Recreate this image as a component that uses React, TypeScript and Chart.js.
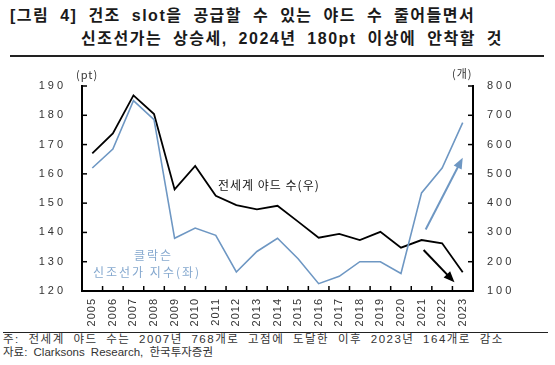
import React, { useEffect, useRef } from "react";
import { Chart, registerables } from "chart.js";

Chart.register(...registerables);

const years = ["2005","2006","2007","2008","2009","2010","2011","2012","2013","2014","2015","2016","2017","2018","2019","2020","2021","2022","2023"];
const priceIndex = [162, 168.5, 185, 178.5, 138, 141.5, 139, 126.5, 133.5, 138, 131, 122.5, 125, 130, 130, 126, 153.5, 162, 177.5];
const yardCount = [570, 638, 768, 704, 447, 527, 425, 393, 379, 391, 337, 282, 295, 274, 302, 248, 274, 263, 164];
const leftTicks = [120, 130, 140, 150, 160, 170, 180, 190];
const rightTicks = [100, 200, 300, 400, 500, 600, 700, 800];
// arrows in data units: [xIndexStart, valueStart, xIndexEnd, valueEnd]
const blueArrow = [16.2, 141, 18.0, 165.5];
const blackArrow = [16.1, 240, 17.6, 130];

const BLUE = "#6e97c3";
const LABEL_BLUE = "#86a9cf";
const TICK_FONT = '11px "Liberation Sans", Arial, sans-serif';

function drawArrow(ctx: CanvasRenderingContext2D, x0: number, y0: number, x1: number, y1: number, color: string) {
  const ang = Math.atan2(y1 - y0, x1 - x0);
  const head = 11;
  const hw = 4.5;
  ctx.save();
  ctx.strokeStyle = color;
  ctx.fillStyle = color;
  ctx.lineWidth = 2;
  ctx.beginPath();
  ctx.moveTo(x0, y0);
  ctx.lineTo(x1 - Math.cos(ang) * head * 0.8, y1 - Math.sin(ang) * head * 0.8);
  ctx.stroke();
  ctx.beginPath();
  ctx.moveTo(x1, y1);
  const bx = x1 - Math.cos(ang) * head;
  const by = y1 - Math.sin(ang) * head;
  ctx.lineTo(bx + Math.sin(ang) * hw, by - Math.cos(ang) * hw);
  ctx.lineTo(bx - Math.sin(ang) * hw, by + Math.cos(ang) * hw);
  ctx.closePath();
  ctx.fill();
  ctx.restore();
}

const axisPlugin = {
  id: "axisDecor",
  afterDraw(chart: any) {
    const ctx: CanvasRenderingContext2D = chart.ctx;
    const xs = chart.scales.x;
    const yl = chart.scales.y;
    const yr = chart.scales.y1;
    const { left, right, bottom } = chart.chartArea;
    ctx.save();
    ctx.strokeStyle = "#000";
    ctx.lineWidth = 1.5;
    for (const v of leftTicks) {
      const y = yl.getPixelForValue(v);
      ctx.beginPath(); ctx.moveTo(left, y); ctx.lineTo(left + 5, y); ctx.stroke();
    }
    for (const v of rightTicks) {
      const y = yr.getPixelForValue(v);
      ctx.beginPath(); ctx.moveTo(right, y); ctx.lineTo(right - 5, y); ctx.stroke();
    }
    for (let i = 1; i < years.length; i++) {
      const x = (xs.getPixelForValue(i - 1) + xs.getPixelForValue(i)) / 2;
      ctx.beginPath(); ctx.moveTo(x, bottom); ctx.lineTo(x, bottom - 5); ctx.stroke();
    }
    ctx.fillStyle = "#333";
    ctx.font = TICK_FONT;
    (ctx as any).letterSpacing = "3px";
    ctx.textBaseline = "middle";
    ctx.textAlign = "right";
    for (const v of leftTicks) {
      ctx.fillText(String(v), left - 16, yl.getPixelForValue(v));
    }
    ctx.textAlign = "left";
    for (const v of rightTicks) {
      ctx.fillText(String(v), right + 14, yr.getPixelForValue(v));
    }
    (ctx as any).letterSpacing = "1px";
    for (let i = 0; i < years.length; i++) {
      const x = xs.getPixelForValue(i);
      ctx.save();
      ctx.translate(x, bottom + 7);
      ctx.rotate(-Math.PI / 2);
      ctx.textAlign = "right";
      ctx.textBaseline = "middle";
      ctx.fillText(years[i], 0, 0);
      ctx.restore();
    }
    (ctx as any).letterSpacing = "0px";
    ctx.restore();
    drawArrow(ctx, xs.getPixelForValue(blueArrow[0]), yl.getPixelForValue(blueArrow[1]), xs.getPixelForValue(blueArrow[2]), yl.getPixelForValue(blueArrow[3]), BLUE);
    drawArrow(ctx, xs.getPixelForValue(blackArrow[0]), yr.getPixelForValue(blackArrow[1]), xs.getPixelForValue(blackArrow[2]), yr.getPixelForValue(blackArrow[3]), "#000");
  },
};

export default function App() {
  const ref = useRef<HTMLCanvasElement>(null);
  useEffect(() => {
    if (!ref.current) return;
    const chart = new Chart(ref.current, {
      type: "line",
      data: {
        labels: years,
        datasets: [
          { label: "클락슨 신조선가 지수(좌)", data: priceIndex, yAxisID: "y", borderColor: BLUE, borderWidth: 1.6, pointRadius: 0, tension: 0, fill: false },
          { label: "전세계 야드 수(우)", data: yardCount, yAxisID: "y1", borderColor: "#000", borderWidth: 1.8, pointRadius: 0, tension: 0, fill: false },
        ],
      },
      options: {
        responsive: false,
        animation: false,
        layout: { padding: { top: 26, left: 0, right: 0, bottom: 0 } },
        plugins: { legend: { display: false }, tooltip: { enabled: false } },
        scales: {
          x: {
            type: "category",
            offset: true,
            ticks: { display: false },
            grid: { display: true, drawOnChartArea: false, drawTicks: false },
            border: { display: true, color: "#000", width: 2 },
            afterFit: (s: any) => { s.height = 41; },
          },
          y: {
            position: "left",
            min: 120, max: 190,
            ticks: { display: false, stepSize: 10 },
            grid: { display: true, drawOnChartArea: false, drawTicks: false },
            border: { display: true, color: "#000", width: 2 },
            afterFit: (s: any) => { s.width = 82; },
          },
          y1: {
            position: "right",
            min: 100, max: 800,
            ticks: { display: false, stepSize: 100 },
            grid: { display: true, drawOnChartArea: false, drawTicks: false },
            border: { display: true, color: "#000", width: 2 },
            afterFit: (s: any) => { s.width = 82; },
          },
        },
      },
      plugins: [axisPlugin],
    } as any);
    return () => chart.destroy();
  }, []);

  const kr = '"Noto Sans CJK KR", "Noto Sans", sans-serif';
  const mixed = '"Liberation Sans", "Noto Sans CJK KR", sans-serif';
  const titleStyle: React.CSSProperties = { position: "absolute", fontFamily: mixed, fontSize: 16, fontWeight: 600, lineHeight: "23px", color: "#1a1a1a", whiteSpace: "nowrap", letterSpacing: 1.5, wordSpacing: 5 };
  const noteStyle: React.CSSProperties = { position: "absolute", left: 3, fontFamily: mixed, fontSize: 11.5, lineHeight: "13px", color: "#333", whiteSpace: "nowrap", wordSpacing: 4 };
  return (
    <div style={{ position: "fixed", left: 0, top: 0, width: 555, height: 365, background: "#fff", overflow: "hidden", fontFamily: kr }}>
      <div style={{ ...titleStyle, left: 10, top: 4 }}>
        [그림 4] 건조 slot을 공급할 수 있는 야드 수 줄어들면서
      </div>
      <div style={{ ...titleStyle, left: 81, top: 27 }}>
        신조선가는 상승세, 2024년 180pt 이상에 안착할 것
      </div>
      <div style={{ position: "absolute", left: 10, top: 55, width: 534, height: 2, background: "#222" }} />
      <canvas ref={ref} width={555} height={272} style={{ position: "absolute", left: 0, top: 60, width: 555, height: 272 }} />
      <div style={{ position: "absolute", left: 76, top: 66, fontSize: 11, color: "#333", letterSpacing: 1, whiteSpace: "nowrap" }}>(pt)</div>
      <div style={{ position: "absolute", left: 452, top: 65, fontSize: 11, color: "#333", letterSpacing: 1, whiteSpace: "nowrap" }}>(개)</div>
      <div style={{ position: "absolute", left: 218, top: 176, fontSize: 12, color: "#111", letterSpacing: 1, whiteSpace: "nowrap" }}>전세계 야드 수(우)</div>
      <div style={{ position: "absolute", left: 134, top: 246, fontSize: 12, color: LABEL_BLUE, letterSpacing: 2, whiteSpace: "nowrap" }}>클락슨</div>
      <div style={{ position: "absolute", left: 93, top: 263, fontSize: 12, color: LABEL_BLUE, letterSpacing: 2, whiteSpace: "nowrap" }}>신조선가 지수(좌)</div>
      <div style={{ position: "absolute", left: 3, top: 332, width: 545, height: 1, background: "#222" }} />
      <div style={{ ...noteStyle, top: 333, letterSpacing: 1.5 }}>
        주: 전세계 야드 수는 2007년 768개로 고점에 도달한 이후 2023년 164개로 감소
      </div>
      <div style={{ ...noteStyle, top: 346, letterSpacing: 0, wordSpacing: 3 }}>
        자료: Clarksons Research, 한국투자증권
      </div>
    </div>
  );
}
